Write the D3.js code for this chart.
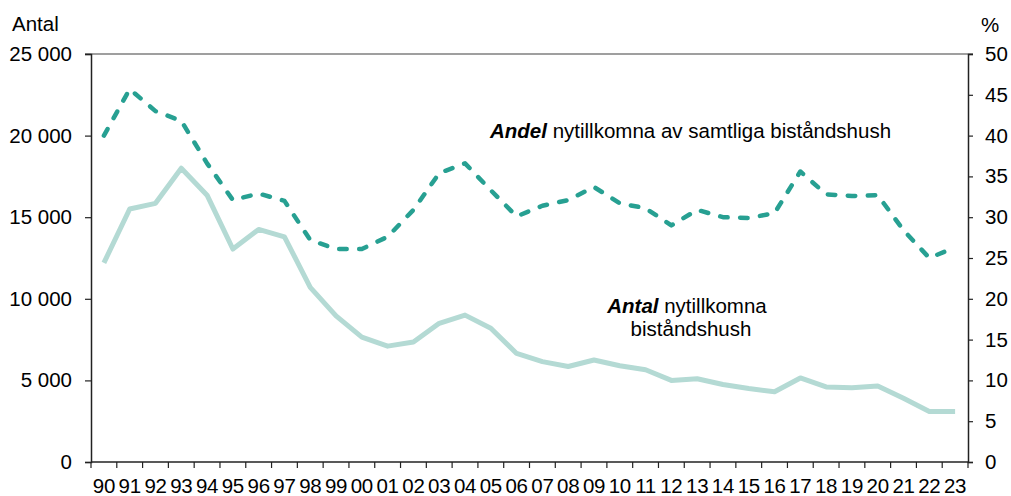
<!DOCTYPE html>
<html>
<head>
<meta charset="utf-8">
<script src="https://cdn.jsdelivr.net/npm/d3@7"></script>
<style>
  html, body { margin: 0; padding: 0; background: #fff; }
  svg { display: block; font-family: "Liberation Sans", Arial, sans-serif; }
</style>
</head>
<body>
<svg id="chart" width="1011" height="496"></svg>
<script>
// Years (two-digit labels) 1990–2023
const years = ["90","91","92","93","94","95","96","97","98","99",
               "00","01","02","03","04","05","06","07","08","09",
               "10","11","12","13","14","15","16","17","18","19",
               "20","21","22","23"];

// Number of newly added households receiving assistance (left axis)
const antal = [12200, 15500, 15850, 18000, 16350, 13050, 14250, 13800, 10700, 8950,
               7650, 7100, 7350, 8500, 9000, 8200, 6650, 6150, 5850, 6250,
               5900, 5650, 5000, 5100, 4750, 4500, 4300, 5150, 4600, 4550,
               4650, 3900, 3100, 3100];

// Share of newly added among all households receiving assistance, % (right axis)
const andel = [40.0, 45.7, 43.0, 41.8, 36.6, 32.1, 32.9, 32.0, 27.2, 26.1,
               26.1, 27.6, 30.9, 35.4, 36.6, 33.3, 30.1, 31.4, 32.1, 33.7,
               31.7, 31.1, 29.0, 30.9, 30.0, 29.9, 30.5, 35.6, 32.8, 32.6,
               32.7, 28.4, 25.0, 26.3];

const leftTicks = [0, 5000, 10000, 15000, 20000, 25000];
const rightTicks = [0, 5, 10, 15, 20, 25, 30, 35, 40, 45, 50];

const svg = d3.select("#chart");
const plotL = 91, plotR = 968, plotT = 54, plotB = 462;
const fontSize = 20.5;

const x = d3.scaleBand().domain(years).range([plotL, plotR]).padding(0);
const yL = d3.scaleLinear().domain([0, 25000]).range([plotB, plotT]);
const yR = d3.scaleLinear().domain([0, 50]).range([plotB, plotT]);

const fmt = d3.formatLocale({ decimal: ",", thousands: "\u00a0", grouping: [3], currency: ["", " kr"] }).format(",d");

// Top frame line
svg.append("line")
  .attr("x1", plotL - 6).attr("x2", plotR + 5)
  .attr("y1", plotT).attr("y2", plotT)
  .attr("stroke", "#7f7f7f").attr("stroke-width", 1.5);

// Left axis
const gL = svg.append("g").attr("transform", `translate(${plotL},0)`)
  .call(d3.axisLeft(yL).tickValues(leftTicks).tickSize(6).tickPadding(13).tickFormat(fmt));
gL.select(".domain").attr("stroke", "#222").attr("stroke-width", 1.5);
gL.selectAll(".tick line").attr("stroke", "#222").attr("stroke-width", 1.2);
gL.selectAll(".tick text").attr("font-size", fontSize).attr("fill", "#000")
  .attr("font-family", "Liberation Sans, Arial, sans-serif");

// Right axis
const gR = svg.append("g").attr("transform", `translate(${plotR},0)`)
  .call(d3.axisRight(yR).tickValues(rightTicks).tickSize(5).tickPadding(12));
gR.select(".domain").attr("stroke", "#222").attr("stroke-width", 1.5);
gR.selectAll(".tick line").attr("stroke", "#222").attr("stroke-width", 1.2);
gR.selectAll(".tick text").attr("font-size", fontSize).attr("fill", "#000")
  .attr("font-family", "Liberation Sans, Arial, sans-serif");

// Bottom axis: baseline, ticks on band boundaries, labels centred in bands
svg.append("line")
  .attr("x1", plotL).attr("x2", plotR).attr("y1", plotB).attr("y2", plotB)
  .attr("stroke", "#222").attr("stroke-width", 1.5);
const boundaries = years.map(d => x(d)).concat([x(years[years.length - 1]) + x.bandwidth()]);
svg.append("g").selectAll("line").data(boundaries).join("line")
  .attr("x1", d => d).attr("x2", d => d)
  .attr("y1", plotB).attr("y2", plotB + 6)
  .attr("stroke", "#222").attr("stroke-width", 1.2);
svg.append("g").selectAll("text").data(years).join("text")
  .attr("x", d => x(d) + x.bandwidth() / 2)
  .attr("y", 493)
  .attr("text-anchor", "middle")
  .attr("font-size", fontSize)
  .attr("letter-spacing", -0.3)
  .attr("fill", "#000")
  .text(d => d);

// Axis titles
svg.append("text").attr("x", 12).attr("y", 31).attr("font-size", fontSize).attr("fill", "#000").text("Antal");
svg.append("text").attr("x", 981).attr("y", 32).attr("font-size", fontSize).attr("fill", "#000").text("%");

const cx = d => x(d) + x.bandwidth() / 2;

// Antal line (solid, light)
svg.append("path")
  .datum(antal)
  .attr("fill", "none")
  .attr("stroke", "#b4dad4")
  .attr("stroke-width", 5)
  .attr("stroke-linejoin", "round")
  .attr("d", d3.line().x((d, i) => cx(years[i])).y(d => yL(d)));

// Andel line (dashed, teal)
svg.append("path")
  .datum(andel)
  .attr("fill", "none")
  .attr("stroke", "#27a092")
  .attr("stroke-width", 4.5)
  .attr("stroke-dasharray", "7.5,12.5")
  .attr("stroke-linecap", "round")
  .attr("stroke-linejoin", "round")
  .attr("d", d3.line().x((d, i) => cx(years[i])).y(d => yR(d)));

// Series annotations
const t1 = svg.append("text").attr("x", 490).attr("y", 138).attr("font-size", fontSize).attr("fill", "#000");
t1.append("tspan").attr("font-weight", "bold").attr("font-style", "italic").text("Andel");
t1.append("tspan").text(" nytillkomna av samtliga biståndshush");

const t2 = svg.append("text").attr("x", 687).attr("y", 313).attr("font-size", fontSize)
  .attr("fill", "#000").attr("text-anchor", "middle");
t2.append("tspan").attr("font-weight", "bold").attr("font-style", "italic").text("Antal");
t2.append("tspan").text(" nytillkomna");
svg.append("text").attr("x", 691).attr("y", 336).attr("font-size", fontSize)
  .attr("fill", "#000").attr("text-anchor", "middle").text("biståndshush");
</script>
</body>
</html>
